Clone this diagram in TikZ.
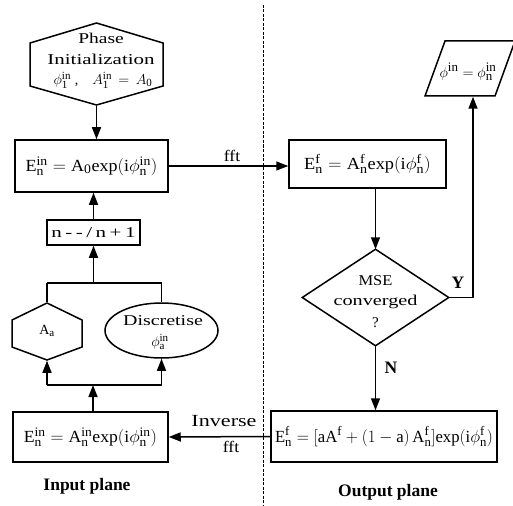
\documentclass[tikz,border=0pt]{standalone}
\usepackage{fontspec}
\setmainfont{Liberation Serif}
\usetikzlibrary{arrows.meta,shapes.geometric,calc}
\newcommand{\rmm}[1]{\mathrm{#1}}
\newcommand{\sx}[1]{\mbox{\fontsize{13}{14}\selectfont #1}}
\newcommand{\sy}[1]{\mbox{\fontsize{11}{12}\selectfont #1}}
\begin{document}
\begin{tikzpicture}[x=1pt,y=-1pt,
  every path/.style={line width=1.5pt},
  arr/.style={-{Triangle[length=12pt,width=9pt]}},
  txt/.style={font=\fontsize{15}{17}\selectfont, inner sep=0pt},
  blbl/.style={font=\fontsize{17.5}{19}\selectfont\bfseries, inner sep=0pt},
  boxn/.style={draw, line width=1.5pt, inner sep=0pt, font=\fontsize{17}{19}\selectfont},
  ghost/.style={inner sep=0pt, draw=none}
]
\useasboundingbox (0,0) rectangle (513,505);
% divider
\draw[dashed, line width=0.7pt, dash pattern=on 3pt off 1.5pt] (263,5) -- (263,505);

% Phase init hexagon
\node[ghost, minimum width=133pt, minimum height=82pt] (init) at (96.5,64) {};
\draw (96.5,23) -- (163,43) -- (163,86) -- (96.5,105) -- (30,86) -- (30,43) -- cycle;
\node[txt] (initA) at (101,38) {\scalebox{1.3}[1]{Phase}};
\node[txt] (initB) at (101,59) {\scalebox{1.4}[1]{Initialization}};
\node[txt, font=\fontsize{14}{15}\selectfont] (initC) at (103,80) {$\phi_{\sy{1}}^{\sy{in}}$\;,\quad$A_{\sy{1}}^{\sy{in}}\,=\,A_{\sy{0}}$};

% E in box
\node[boxn, minimum width=153pt, minimum height=52pt] (ein) at (91.5,166)
  {\scalebox{1.06}[1]{$\rmm{E}^{\sx{in}}_{\sx{n}}=\rmm{A}_{\sx{0}}\rmm{exp}(\rmm{i}\phi^{\sx{in}}_{\sx{n}})$}};
\draw[arr] (init.south) -- (init.south |- ein.north);

% n --> n+1
\node[boxn, minimum width=93pt, minimum height=25pt, font=\fontsize{15}{17}\selectfont] (inc) at (93.5,232.5)
  {\scalebox{1.4}[1]{n\,-\,-\,/\,n\,+\,1}};
\draw[arr] (inc.north) -- (inc.north |- ein.south);

% A_a hexagon
\node[ghost, minimum width=70pt, minimum height=57pt] (aa) at (47,331.5) {};
\draw (47,303) -- (82,320) -- (82,347) -- (47,360) -- (12,347) -- (12,320) -- cycle;
\node[txt, font=\fontsize{14}{16}\selectfont] (aat) at (47,331) {$\rmm{A}_{\sy{a}}$};

% Discretise ellipse
\node[draw, ellipse, line width=1.5pt, minimum width=113pt, minimum height=55pt, inner sep=0pt] (disc) at (161.5,330.5) {};
\node[txt] (disct) at (163,321) {\scalebox{1.33}[1]{Discretise}};
\node[txt, font=\fontsize{14}{15}\selectfont] (discp) at (160,342) {$\phi_{\sy{a}}^{\sy{in}}$};

% upper bracket
\coordinate (bt) at (93.5,283);
\draw (aa.north |- bt) -- (disc.north |- bt);
\draw (aa.north |- bt) -- (aa.north);
\draw (disc.north |- bt) -- (disc.north);
\draw[arr] (bt) -- (inc.south);

% bottom E in box
\node[boxn, minimum width=155pt, minimum height=50pt] (ein2) at (90.5,437)
  {\scalebox{1.04}[1]{$\rmm{E}^{\sx{in}}_{\sx{n}}=\rmm{A}^{\sx{in}}_{\sx{n}}\rmm{exp}(\rmm{i}\phi^{\sx{in}}_{\sx{n}})$}};
\coordinate (bb) at (93,385);
\draw (aa.south |- bb) -- (disc.south |- bb);
\draw[arr] (aa.south |- bb) -- (aa.south);
\draw[arr] (disc.south |- bb) -- (disc.south);
\draw[arr] (bb |- ein2.north) -- (bb);

% E f box
\node[boxn, minimum width=157pt, minimum height=48pt] (ef) at (367.5,164)
  {\scalebox{1.08}[1]{$\rmm{E}^{\sx{f}}_{\sx{n}}=\rmm{A}^{\sx{f}}_{\sx{n}}\rmm{exp}(\rmm{i}\phi^{\sx{f}}_{\sx{n}})$}};
\draw[arr] (ein.east) -- (ein.east -| ef.west);
\node[txt, font=\fontsize{16}{17}\selectfont] (fft1) at (232,156) {\scalebox{1.1}[1]{fft}};

% MSE diamond
\node[ghost, minimum width=145pt, minimum height=95pt] (mse) at (375.5,297.5) {};
\draw (mse.north) -- (mse.east) -- (mse.south) -- (mse.west) -- cycle;
\node[txt] (mse1) at (375.5,281) {\scalebox{1.1}[1]{MSE}};
\node[txt] (mse2) at (375.5,302) {\scalebox{1.35}[1]{converged}};
\node[txt] (mse3) at (375.5,323) {?};
\draw[arr] (mse.north |- ef.south) -- (mse.north);

% parallelogram
\node[ghost, minimum width=70pt, minimum height=55pt] (para) at (473,68.5) {};
\draw (425,96) -- (445,41) -- (515,41) -- (495,96) -- cycle;
\node[txt, font=\fontsize{14}{16}\selectfont] (parat) at (468,72) {$\phi^{\sx{in}}=\phi^{\sx{in}}_{\sx{n}}$};
\draw[arr] (mse.east) -| (para.south);
\node[blbl] (ylab) at (458,283) {Y};

% bottom right box
\node[boxn, minimum width=226pt, minimum height=51pt] (eff) at (384,436.5)
  {\scalebox{0.98}[1]{$\rmm{E}^{\sx{f}}_{\sx{n}}=[\rmm{a}\rmm{A}^{\sx{f}}+(1-\rmm{a})\,\rmm{A}^{\sx{f}}_{\sx{n}}]\rmm{exp}(\rmm{i}\phi^{\sx{f}}_{\sx{n}})$}};
\draw[arr] (mse.south) -- (mse.south |- eff.north);
\node[blbl] (nlab) at (391,368) {N};

\draw[arr] (eff.west) -- (ein2.east);
\node[txt, font=\fontsize{17}{18}\selectfont] (inv) at (224,421) {\scalebox{1.3}[1]{Inverse}};
\node[txt, font=\fontsize{16}{17}\selectfont] (fft2) at (231,447) {\scalebox{1.1}[1]{fft}};

\node[blbl] (inp) at (87,486) {Input plane};
\node[blbl] (outp) at (388,492) {Output plane};
\end{tikzpicture}
\end{document}
